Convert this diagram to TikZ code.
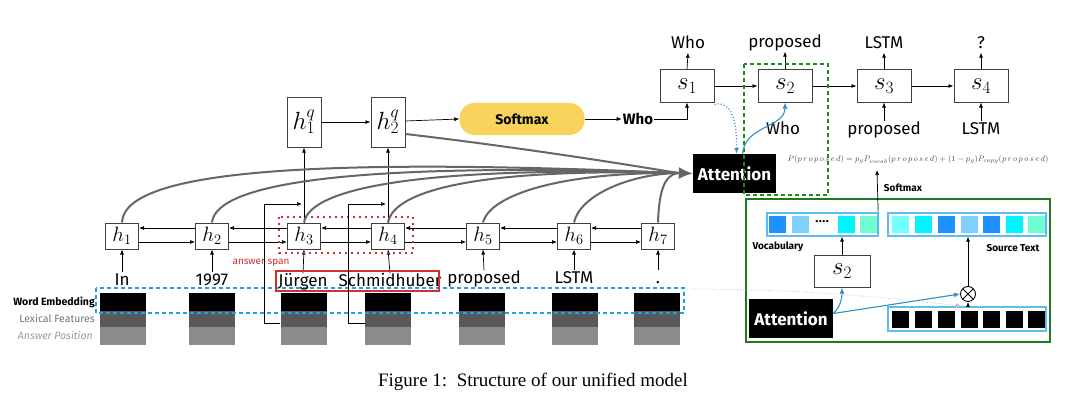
\documentclass[tikz,border=0pt]{standalone}
\usepackage{fontspec}
\setmainfont{Liberation Serif}
\newfontfamily\cfont{Fira Sans}
\usetikzlibrary{arrows.meta,calc}
\definecolor{gline}{HTML}{666666}
\definecolor{softy}{HTML}{F9D45C}
\definecolor{bdash}{HTML}{1EA0F0}
\definecolor{reddot}{HTML}{D03030}
\definecolor{gdash}{HTML}{1A8A1A}
\definecolor{gbox}{HTML}{1E7A1E}
\definecolor{dodger}{HTML}{1E90FF}
\definecolor{lsky}{HTML}{80D0FF}
\definecolor{cyanc}{HTML}{00F5FF}
\definecolor{aquam}{HTML}{72FCD4}
\definecolor{lcyan}{HTML}{72FFFF}
\definecolor{blueline}{HTML}{2F8FD0}
\definecolor{barline}{HTML}{5BBDF2}
\begin{document}
\begin{tikzpicture}[x=1pt,y=-1pt,
  hbox/.style={draw=black!75, line width=1pt, minimum width=33pt, minimum height=26pt, inner sep=0pt, fill=white, font=\fontsize{21}{21}\selectfont},
  qbox/.style={draw=black!75, line width=1pt, minimum width=34pt, minimum height=50pt, inner sep=0pt, fill=white, font=\fontsize{26}{26}\selectfont},
  sbox/.style={draw=black!75, line width=1pt, minimum width=54pt, minimum height=32pt, inner sep=0pt, fill=white, font=\fontsize{27}{27}\selectfont},
  word/.style={font=\cfont\fontsize{17}{17}\selectfont, inner sep=1pt, text height=12pt, text depth=3pt},
  bword/.style={font=\cfont\bfseries\fontsize{15}{15}\selectfont, inner sep=1pt},
  arr/.style={-{Latex[length=5pt,width=4pt]}, line width=0.7pt},
  attline/.style={gline, line width=2pt},
  attarrow/.style={gline, line width=2pt, -{Latex[length=14pt,width=12pt]}},
  we/.style={fill=black, minimum width=46pt, minimum height=18pt, inner sep=0pt},
  lf/.style={fill=black!65, minimum width=46pt, minimum height=16pt, inner sep=0pt},
  ap/.style={fill=black!45, minimum width=46pt, minimum height=18pt, inner sep=0pt},
  attbox/.style={fill=black, text=white, font=\cfont\bfseries\fontsize{17}{17}\selectfont, minimum width=83pt, minimum height=39pt, inner sep=0pt},
  bluearr/.style={blueline, line width=1.1pt, -{Latex[length=6pt,width=5pt]}},
  sq/.style={minimum width=17pt, minimum height=17pt, inner sep=0pt},
  bar/.style={draw=barline, line width=1.3pt, minimum height=23pt, inner sep=0pt},
  small/.style={font=\cfont\bfseries\fontsize{10}{10}\selectfont, inner sep=0pt}
]
\useasboundingbox (0,0) rectangle (1082,412);

% ---------- embeddings ----------
\foreach \n/\x in {1/123,2/212,3/303.5,4/388,5/482,6/574.5,7/657} {
  \node[we] (we\n) at (\x,302) {};
  \node[lf] (lf\n) at (\x,319) {};
  \node[ap] (ap\n) at (\x,336) {};
}
\node[font=\cfont\fontsize{10.5}{10.5}\selectfont\bfseries, anchor=east, inner sep=0pt] (lwe) at (95,302) {Word Embedding};
\node[font=\cfont\fontsize{10.5}{10.5}\selectfont, text=black!55, anchor=east, inner sep=0pt] (llf) at (95,318) {Lexical Features};
\node[font=\cfont\itshape\fontsize{10.5}{10.5}\selectfont, text=black!40, anchor=east, inner sep=0pt] (lap) at (93,335) {Answer Position};
\draw[bdash, line width=1.5pt, dash pattern=on 4pt off 3pt] (96,288) rectangle (684,313);
\coordinate (gs) at (684,289);

% ---------- encoder ----------
\node[hbox] (h1) at (122,236) {$h_1$};
\node[hbox] (h2) at (212,236) {$h_2$};
\node[hbox] (h3) at (304,236) {$h_3$};
\node[hbox] (h4) at (388,236) {$h_4$};
\node[hbox] (h5) at (483,236) {$h_5$};
\node[hbox] (h6) at (574,236) {$h_6$};
\node[hbox] (h7) at (658,236) {$h_7$};
\foreach \a/\b in {h1/h2,h2/h3,h3/h4,h4/h5,h5/h6,h6/h7} {
  \draw[arr] ([yshift=8pt]\b.west) -- ([yshift=8pt]\a.east);
  \draw[arr] ([yshift=-6pt]\a.east) -- ([yshift=-6pt]\b.west);
}
\node[word] (w1) at (122,281) {In};
\node[word] (w2) at (212,281) {1997};
\node[word] (w3) at (303,282) {Jürgen};
\node[word] (w4) at (390,282) {Schmidhuber};
\node[word] (w5) at (484,279) {proposed};
\node[word] (w6) at (574,279) {LSTM};
\node[word] (w7) at (658,279) {.};
\foreach \n in {1,...,7} { \draw[arr] (w\n.north) -- (h\n.south); }

\draw[reddot, line width=1.4pt] (276,271) rectangle (439,291);
\node[font=\cfont\fontsize{10}{10}\selectfont, text=reddot, inner sep=0pt] (ans) at (261,263) {answer span};
\draw[reddot, line width=2pt, dash pattern=on 1.8pt off 4.2pt] (279,217) rectangle (413,253);

% ---------- question encoder ----------
\node[qbox] (q1) at (304,122) {$h^q_1$};
\node[qbox] (q2) at (388,122) {$h^q_2$};
\draw[arr] (h3.north) -- (q1.south);
\draw[arr] (h4.north) -- (q2.south);
\draw[arr] (q1.east) -- (q2.west);
\coordinate (fb3) at (302,204);
\coordinate (fb4) at (386,204);
\draw[arr] ([yshift=-4pt]lf3.west) -| (264,204) -- (fb3);
\draw[arr] ([yshift=-4pt]lf4.west) -| (348,204) -- (fb4);

\node[fill=softy, rounded corners=15pt, minimum width=125pt, minimum height=32pt, inner sep=0pt, font=\cfont\bfseries\fontsize{14}{14}\selectfont] (soft) at (522,119) {Softmax};
\draw[arr] ([yshift=1pt]q2.east) -- (soft.west);
\node[bword] (whoq) at (638,119) {Who};
\draw[arr] (soft.east) -- (whoq.west);

% ---------- attention ----------
\node[attbox] (att) at (734.5,173.5) {Attention};
\coordinate (conv) at (678,173);
\draw[attline] (h1.north) .. controls (124,168) and (330,158) .. (conv);
\draw[attline] (h2.north) .. controls (216,182) and (360,162) .. (conv);
\draw[attline] (h3.north) .. controls (310,188) and (420,166) .. (conv);
\draw[attline] (h4.north) .. controls (394,190) and (480,168) .. (conv);
\draw[attline] (h5.north) .. controls (490,195) and (560,172) .. (conv);
\draw[attline] (h6.north) .. controls (580,195) and (630,174) .. (conv);
\draw[attline] (h7.north) .. controls (659,192) and (664,175) .. (conv);
\draw[attline] ([yshift=-12pt]q2.east) .. controls (500,145) and (600,160) .. (conv);
\draw[attarrow] (conv) -- (att.west);

% ---------- decoder ----------
\node[sbox] (s1) at (687,86) {$s_1$};
\node[sbox] (s2) at (785,86) {$s_2$};
\node[sbox] (s3) at (884,86) {$s_3$};
\node[sbox] (s4) at (981,86) {$s_4$};
\draw[arr] (s1) -- (s2);
\draw[arr] (s2) -- (s3);
\draw[arr] (s3) -- (s4);
\draw[arr] (whoq.east) -| (s1.south);
\node[word] (o1) at (688,44) {Who};
\node[word] (o2) at (785,43) {proposed};
\node[word] (o3) at (884,44) {LSTM};
\node[word] (o4) at (981,44) {?};
\foreach \n in {1,...,4} { \draw[arr] (s\n.north) -- (o\n.south); }
\node[word] (i2) at (783,130) {Who};
\node[word] (i3) at (884,130) {proposed};
\node[word] (i4) at (981,130) {LSTM};
\draw[arr] (i3.north) -- (s3.south);
\draw[arr] (i4.north) -- (s4.south);
\draw[gdash, line width=1.6pt, dash pattern=on 4pt off 3pt] (744,64) rectangle (828,195);
\draw[bluearr] ([xshift=8pt]att.north) .. controls (745,125) and (785,128) .. (s2.south);
\draw[bluearr, dotted, line width=1.2pt] ([yshift=-2pt]s1.south east) .. controls (733,100) and (737,125) .. ([xshift=2pt]att.north);

\node[font=\itshape\fontsize{8.5}{8.5}\selectfont, inner sep=0pt, text=black!70] (form) at (918,160) {$P(p\,r\,o\,p\,o\,s\,e\,d) = p_g P_{vocab}(p\,r\,o\,p\,o\,s\,e\,d) + (1-p_g)P_{copy}(p\,r\,o\,p\,o\,s\,e\,d)$};

% ---------- pointer-generator box ----------
\draw[gbox, line width=2pt] (746,199) rectangle (1050,342);
\node[bar, minimum width=111pt] (voc) at (822.5,224.5) {};
\node[bar, minimum width=158pt] (src) at (967,224.5) {};
\node[bar, minimum width=158pt, minimum height=24pt] (blk) at (967,319) {};
\node[sq, fill=dodger] (v1) at (777,224.5) {};
\node[sq, fill=lsky] (v2) at (800,224.5) {};
\node[font=\bfseries\fontsize{14}{14}\selectfont, inner sep=0pt] (vd) at (822,222) {....};
\node[sq, fill=cyanc] (v3) at (846,224.5) {};
\node[sq, fill=aquam] (v4) at (868,224.5) {};
\foreach \n/\x/\c in {1/900/lcyan,2/923/cyanc,3/946/dodger,4/969.5/lsky,5/991.5/dodger,6/1014.5/cyanc,7/1036.5/aquam} {
  \node[sq, fill=\c] (t\n) at (\x,224.5) {};
  \node[sq, fill=black] (k\n) at (\x,319.5) {};
}
\node[small] (lvoc) at (778,247) {Vocabulary};
\node[small] (lsrc) at (1013,248) {Source Text};
\node[small] (lsm) at (903,188) {Softmax};
\coordinate (smtop) at (877,170);
\draw[arr] ([xshift=-0.5pt]voc.north east) -- (smtop);
\node[sbox, minimum width=56pt] (s2b) at (842,271) {$s_2$};
\draw[arr] (s2b.north) -- (s2b.north |- voc.south);
\node[attbox, minimum width=84pt] (att2) at (791,318.5) {Attention};
\node[circle, draw, line width=0.9pt, minimum size=15pt, inner sep=0pt,
  path picture={\draw[line width=0.9pt] (path picture bounding box.north west) -- (path picture bounding box.south east) (path picture bounding box.north east) -- (path picture bounding box.south west);}] (ot) at (968,294) {};
\draw[arr] (ot.north) -- (ot.north |- src.south);
\draw[arr] (ot.south |- blk.north) -- (ot.south);
\draw[bluearr] ([yshift=5pt]att2.east) -- (ot.west);
\draw[bluearr] ([yshift=5pt]att2.east) .. controls (840,308) and (842,298) .. (s2b.south);
\draw[black!25, line width=0.8pt, dotted, -{Latex[length=6pt,width=5pt]}] (gs) .. controls (780,289) and (860,294) .. ([xshift=-5pt]blk.north);

% ---------- caption ----------
\node[font=\fontsize{19}{19}\selectfont, inner sep=0pt] (cap) at (533,382) {Figure 1:\enspace Structure of our unified model};
\end{tikzpicture}
\end{document}
